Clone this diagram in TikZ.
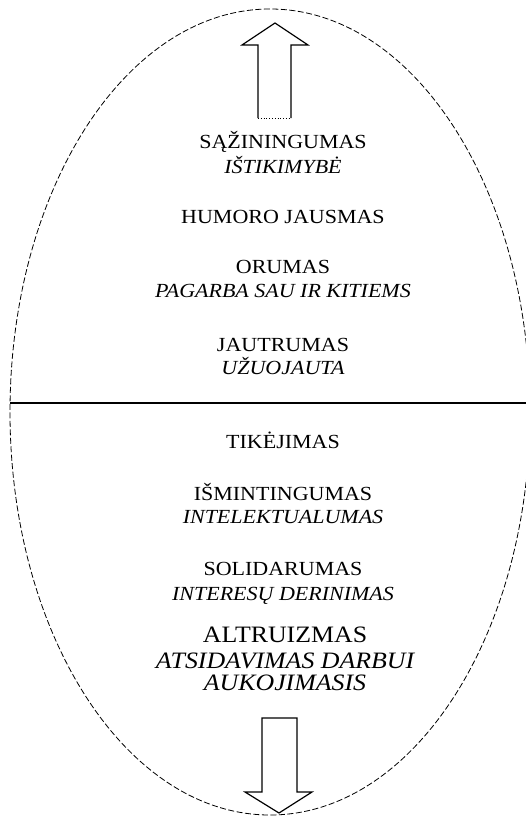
\documentclass[tikz,border=0pt]{standalone}
\usepackage{fontspec}
\setmainfont[FakeStretch=1.1]{Liberation Serif}
\begin{document}
\begin{tikzpicture}[x=1bp,y=-1bp,
  outline/.style={line width=0.8bp, dash pattern=on 6bp off 2.5bp},
  divider/.style={line width=1.3bp},
  blockarrow/.style={line width=1.2bp, line join=miter},
  txt/.style={anchor=base, inner sep=0pt, font=\fontsize{20bp}{24bp}\selectfont},
  txtit/.style={txt, font=\fontsize{20bp}{24bp}\selectfont\itshape},
  bigtxt/.style={anchor=base, inner sep=0pt, font=\fontsize{23.5bp}{27bp}\selectfont},
  bigit/.style={bigtxt, font=\fontsize{23.5bp}{27bp}\selectfont\itshape}]
\useasboundingbox (0,0) rectangle (526,819);
% ellipse outline
\draw[outline] (270,412) ellipse [x radius=260bp, y radius=403bp];
% divider
\coordinate (hl) at (10,403);
\coordinate (hr) at (526,403);
\draw[divider] (hl) -- (hr);
% top arrow
\draw[blockarrow] (258,118) -- (258,45) -- (242,45) -- (275,23) -- (308,45) -- (291,45) -- (291,118);
\draw[line width=0.8bp, dotted] (258,118) -- (291,118);
% bottom arrow
\draw[blockarrow] (262,718) -- (297,718) -- (297,792) -- (312,792) -- (279,813) -- (245,792) -- (262,792) -- cycle;
% texts
\node[txt]   (t1)  at (283,148) {SĄŽININGUMAS};
\node[txtit] (t1i) at (283,173) {IŠTIKIMYBĖ};
\node[txt]   (t2)  at (283,223) {HUMORO JAUSMAS};
\node[txt]   (t3)  at (283,273) {ORUMAS};
\node[txtit] (t3i) at (283,297) {PAGARBA SAU IR KITIEMS};
\node[txt]   (t4)  at (283,351) {JAUTRUMAS};
\node[txtit] (t4i) at (283,374) {UŽUOJAUTA};
\node[txt]   (t5)  at (283,448) {TIKĖJIMAS};
\node[txt]   (t6)  at (283,500) {IŠMINTINGUMAS};
\node[txtit] (t6i) at (283,523) {INTELEKTUALUMAS};
\node[txt]   (t7)  at (283,575) {SOLIDARUMAS};
\node[txtit] (t7i) at (283,600) {INTERESŲ DERINIMAS};
\node[bigtxt] (t8)  at (285,642) {ALTRUIZMAS};
\node[bigit]  (t8i) at (285,668) {ATSIDAVIMAS DARBUI};
\node[bigit]  (t8j) at (285,690) {AUKOJIMASIS};
\end{tikzpicture}
\end{document}
